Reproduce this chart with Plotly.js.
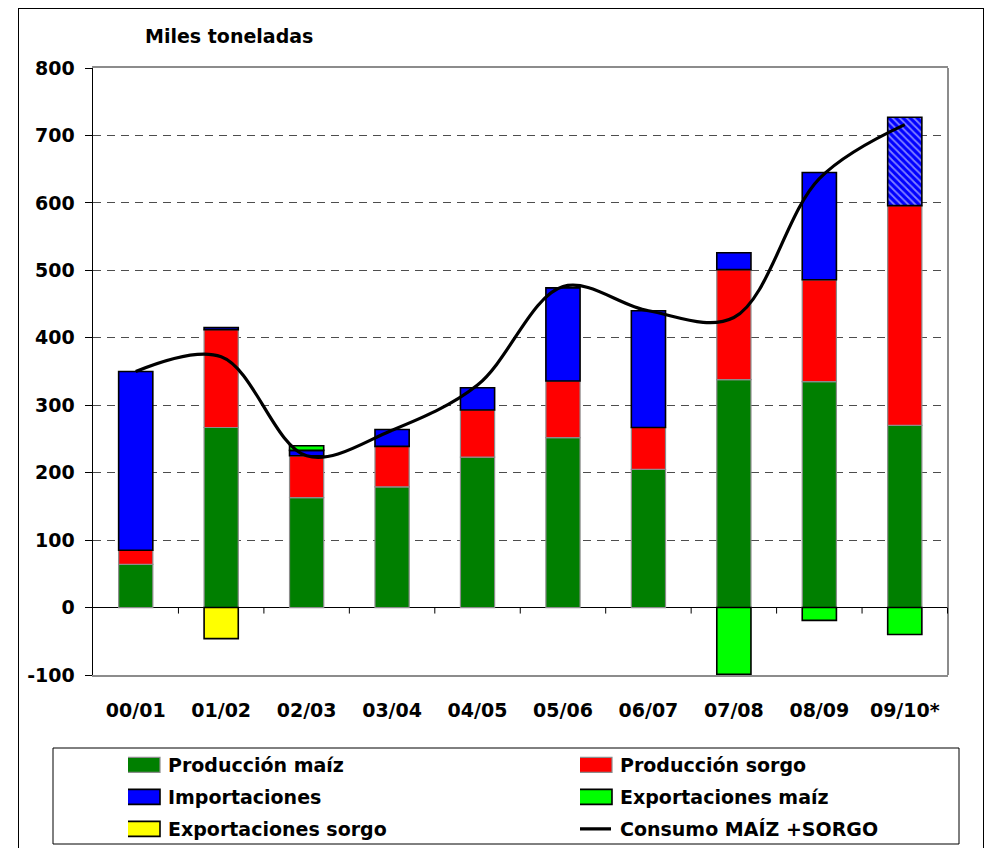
<!DOCTYPE html>
<html>
<head>
<meta charset="utf-8">
<script src="https://cdn.plot.ly/plotly-3.0.1.min.js"></script>
<style>
  html, body { margin: 0; padding: 0; background: #fff; }
  #wrap { position: relative; width: 992px; height: 848px; overflow: hidden; }
  #chart { width: 992px; height: 848px; }
  #frame { position: absolute; left: 18px; top: 8px; width: 966px; height: 860px;
           border: 1.5px solid #000; pointer-events: none; box-sizing: border-box; }
</style>
</head>
<body>
<div id="wrap">
  <div id="chart"></div>
  <div id="frame"></div>
</div>
<script>
// ---- data (miles de toneladas) ----
const categories    = ['00/01','01/02','02/03','03/04','04/05','05/06','06/07','07/08','08/09','09/10*'];
const prodMaiz      = [64, 267, 163, 179, 223, 252, 205, 338, 335, 270];
const prodSorgo     = [21, 145, 62, 60, 70, 84, 62, 163, 151, 326];
const importaciones = [265, 3, 8, 25, 33, 138, 173, 25, 159, 131];
const expMaiz       = [null, null, 7, null, null, null, null, -99, -19, -40];
const expSorgo      = [null, -46, null, null, null, null, null, null, null, null];
const consumo       = [350, 372, 225, 263, 330, 476, 440, 430, 636, 716];
const yTickVals     = [-100, 0, 100, 200, 300, 400, 500, 600, 700, 800];
const legendNames   = ['Producción maíz','Producción sorgo','Importaciones','Exportaciones maíz','Exportaciones sorgo','Consumo MAÍZ +SORGO'];

const FONT = 'DejaVu Sans, Liberation Sans, Arial, sans-serif';
const BW = 0.4;
const importPattern = categories.map(c => c.endsWith('*') ? '\\' : '');

const traces = [
  {type:'bar', name:legendNames[0], x:categories, y:prodMaiz, width:BW, legend:'legend',
   marker:{color:'#007f00', line:{color:'#8c8c8c', width:1.2}}},
  {type:'bar', name:legendNames[1], x:categories, y:prodSorgo, width:BW, legend:'legend2',
   marker:{color:'#ff0000', line:{color:'#8c8c8c', width:1.2}}},
  {type:'bar', name:legendNames[2], x:categories, y:importaciones, width:BW, legend:'legend3',
   marker:{color:'#0000ff', line:{color:'#000', width:1.6},
           pattern:{shape:importPattern, fgcolor:'#ffffff', size:5, solidity:0.35, fillmode:'overlay'}}},
  {type:'bar', name:legendNames[3], x:categories, y:expMaiz, width:BW, legend:'legend4',
   marker:{color:'#00ff00', line:{color:'#000', width:1.6}}},
  {type:'bar', name:legendNames[4], x:categories, y:expSorgo, width:BW, legend:'legend5',
   marker:{color:'#ffff00', line:{color:'#000', width:1.6}}},
  {type:'scatter', mode:'lines', name:legendNames[5], x:categories, y:consumo, legend:'legend6',
   line:{color:'#000', width:3.2, shape:'spline', smoothing:1}}
];

// plot area in pixels: x 93..948, y 68..675
const L = 93, R = 948, T = 68, B = 675;
const W = R - L, H = B - T;
const px = v => (v - L) / W;
const py = v => (B - v) / H;

const shapes = [
  {type:'line', xref:'paper', yref:'paper', x0:1, x1:1, y0:0, y1:1, line:{color:'#8c8c8c', width:2}, layer:'above'},
  {type:'rect', xref:'paper', yref:'paper', x0:px(53), x1:px(959), y0:py(844), y1:py(748),
   line:{color:'#000', width:1}, fillcolor:'rgba(0,0,0,0)'}
];
categories.forEach((c, i) => {
  shapes.push({type:'line', xref:'x', yref:'y', ysizemode:'pixel', yanchor:0,
               x0:i+0.5, x1:i+0.5, y0:0, y1:-6, line:{color:'#000', width:1}, layer:'above'});
});

const legendBase = {
  orientation:'v', xanchor:'left', yanchor:'middle',
  bgcolor:'rgba(0,0,0,0)', borderwidth:0, font:{family:FONT, size:19, color:'#000', weight:'bold'},
  itemwidth:30
};
const col1 = px(128), col2 = px(580);
const row1 = py(765), row2 = py(797), row3 = py(829);
const mk = (x, y) => Object.assign({}, legendBase, {x:x, y:y});

const layout = {
  width:992, height:848,
  margin:{l:L, r:992-R, t:T, b:848-B, autoexpand:false},
  paper_bgcolor:'#fff', plot_bgcolor:'#fff',
  font:{family:FONT, size:19, color:'#000', weight:'bold'},
  barmode:'relative',
  showlegend:true,
  xaxis:{type:'category', categoryorder:'array', categoryarray:categories,
         showline:true, linecolor:'#8c8c8c', linewidth:2, mirror:true,
         ticks:'', showgrid:false, ticklabelstandoff:17, automargin:false,
         tickfont:{family:FONT, size:19, color:'#000', weight:'bold'}, fixedrange:true},
  yaxis:{range:[-100, 800], tickmode:'array', tickvals:yTickVals, ticktext:yTickVals.map(String),
         automargin:false,
         showline:true, linecolor:'#000', linewidth:1.5, mirror:false,
         ticks:'outside', ticklen:7, tickcolor:'#000', tickwidth:1,
         showgrid:true, gridcolor:'#4d4d4d', gridwidth:1, griddash:'8px,6px',
         zeroline:true, zerolinecolor:'#000', zerolinewidth:1.5,
         ticklabelstandoff:6,
         tickfont:{family:FONT, size:19, color:'#000', weight:'bold'}, fixedrange:true},
  legend: mk(col1, row1),
  legend2: mk(col2, row1),
  legend3: mk(col1, row2),
  legend4: mk(col2, row2),
  legend5: mk(col1, row3),
  legend6: mk(col2, row3),
  annotations:[
    {text:'Miles toneladas', xref:'paper', yref:'paper', x:px(143), y:py(36),
     xanchor:'left', yanchor:'middle', showarrow:false,
     font:{family:FONT, size:19, color:'#000', weight:'bold'}}
  ],
  shapes:shapes
};

function widenLegendKeys() {
  // widen the legend keys to the reference's wide rectangles
  document.querySelectorAll('#chart g.legendpoints path').forEach(p => {
    p.setAttribute('d', 'M12,7.5H-26V-7.5H12Z');
  });
  document.querySelectorAll('#chart g.legendlines path').forEach(p => {
    p.setAttribute('d', 'M-4,0h35');
  });
}

const gd = document.getElementById('chart');
Plotly.newPlot(gd, traces, layout, {staticPlot:true, displayModeBar:false}).then(() => {
  widenLegendKeys();
  setTimeout(widenLegendKeys, 0);
  setTimeout(widenLegendKeys, 100);
});
gd.on && gd.on('plotly_afterplot', widenLegendKeys);
</script>
</body>
</html>
